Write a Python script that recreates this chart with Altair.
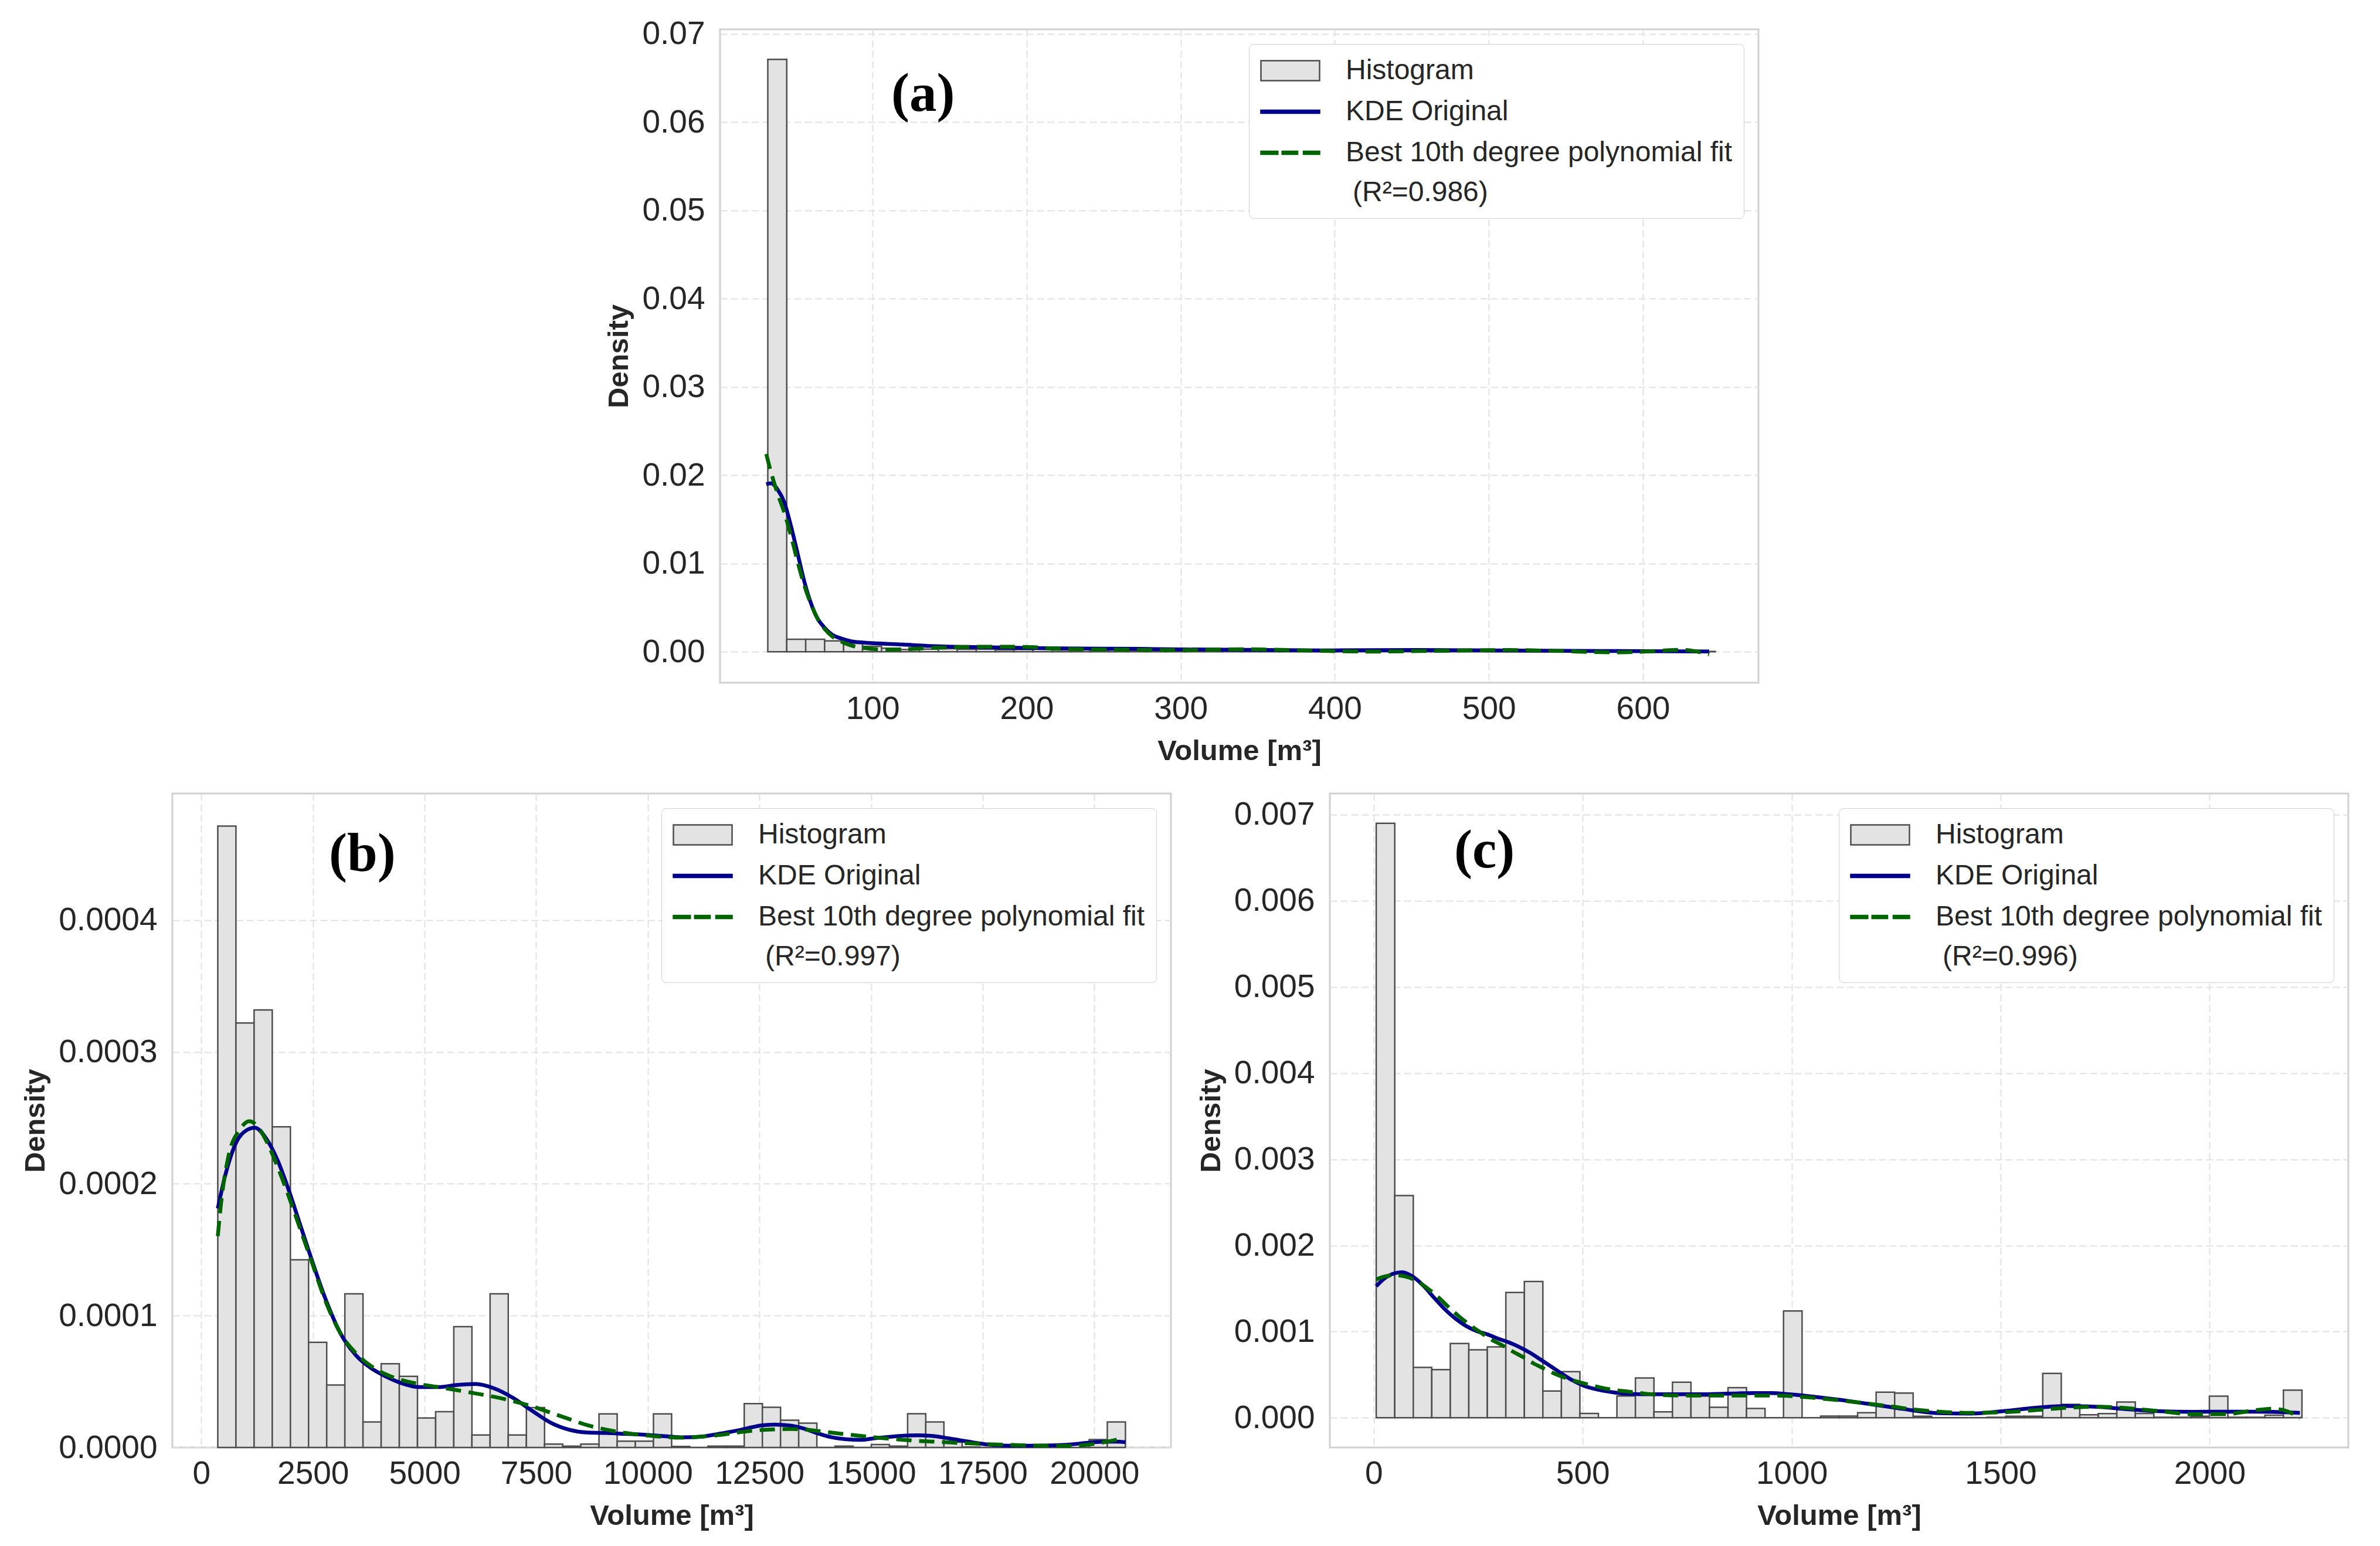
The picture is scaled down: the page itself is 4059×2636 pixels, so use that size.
import altair as alt
import pandas as pd

KDE_COLOR = "#00008b"
POLY_COLOR = "#006400"
HIST_FILL = "#e3e3e3"
HIST_EDGE = "#4d4d4d"
TEXT = "#262626"

# ---------------- panel (a) ----------------
A_BIN_START = 32.0
A_BIN_WIDTH = 12.3
A_UNIT = 0.01
A_HIST = [6.71, 0.142, 0.142, 0.123, 0.095, 0.062, 0.040, 0.025, 0.030, 0.035,
          0.028, 0.030, 0.022, 0.025, 0.030, 0.020, 0.025, 0.018, 0.022, 0.015,
          0.020, 0.018, 0.012, 0.015, 0.020, 0.010, 0.015, 0.012, 0.018, 0.010,
          0.012, 0.015, 0.010, 0.012, 0.008, 0.015, 0.010, 0.008, 0.012, 0.010,
          0.008, 0.006, 0.010, 0.008, 0.005, 0.006, 0.004, 0.006, 0.005, 0.004]
A_KDE_X = [31, 34.2, 38.4, 42.7, 46.9, 51.2, 55.4, 59.7, 63.9, 69, 74.1, 79.3,
           86.1, 94.6, 103, 120, 137, 154, 188, 222, 273, 300, 400, 453, 500,
           572, 643]
A_KDE_Y = [1.898, 1.908, 1.837, 1.694, 1.433, 1.125, 0.816, 0.565, 0.389, 0.270,
           0.190, 0.152, 0.119, 0.104, 0.095, 0.081, 0.066, 0.057, 0.047, 0.038,
           0.033, 0.027, 0.016, 0.020, 0.016, 0.009, 0.004]
A_POLY_X = [31, 34.2, 38.4, 42.7, 46.9, 51.2, 55.4, 59.7, 63.9, 69, 74.1, 79.3,
            86.1, 94.6, 103, 111.6, 120, 137, 154, 171, 188, 205, 216, 261, 300,
            341, 379, 424, 468, 513, 542, 581, 599, 625, 643]
A_POLY_Y = [2.240, 2.027, 1.789, 1.576, 1.324, 1.030, 0.769, 0.555, 0.389, 0.256,
            0.171, 0.119, 0.071, 0.043, 0.028, 0.024, 0.028, 0.043, 0.052, 0.057,
            0.057, 0.052, 0.038, 0.024, 0.020, 0.029, 0.016, 0.002, 0.011, 0.020,
            0.011, -0.007, 0.000, 0.022, -0.029]

# ---------------- panel (b) ----------------
B_BIN_START = 368.0
B_BIN_WIDTH = 406.6
B_UNIT = 1e-4
B_HIST = [4.713, 3.219, 3.319, 2.432, 1.423, 0.797, 0.474, 1.165, 0.194, 0.635,
          0.539, 0.223, 0.271, 0.916, 0.094, 1.165, 0.094, 0.303, 0.026, 0.010,
          0.026, 0.255, 0.048, 0.048, 0.255, 0.008, 0.000, 0.010, 0.010, 0.333,
          0.305, 0.207, 0.185, 0.000, 0.010, 0.000, 0.022, 0.010, 0.256, 0.193,
          0.040, 0.005, 0.000, 0.000, 0.000, 0.000, 0.000, 0.000, 0.060, 0.193]
B_KDE_X = [368, 528, 779, 1030, 1198, 1449, 1700, 1951, 2203, 2454, 2789, 3124,
           3459, 3794, 4129, 4464, 4883, 5302, 5720, 6139, 6558, 6977, 7396, 7814,
           8233, 8652, 9071, 9489, 9908, 10327, 10745, 11164, 11583, 11950, 12213,
           12532, 12850, 13168, 13487, 13805, 14123, 14442, 14760, 15078, 15397,
           15715, 16033, 16352, 16670, 16988, 17307, 17625, 17943, 18261, 18580,
           18898, 19216, 19535, 19853, 20171, 20490, 20700]
B_KDE_Y = [1.813, 2.055, 2.313, 2.410, 2.426, 2.345, 2.184, 1.958, 1.700, 1.442,
           1.119, 0.861, 0.700, 0.603, 0.539, 0.490, 0.458, 0.458, 0.474, 0.481,
           0.448, 0.377, 0.281, 0.190, 0.135, 0.113, 0.110, 0.103, 0.097, 0.087,
           0.077, 0.081, 0.103, 0.125, 0.144, 0.167, 0.174, 0.167, 0.144, 0.107,
           0.077, 0.0625, 0.058, 0.070, 0.080, 0.089, 0.092, 0.088, 0.073, 0.055,
           0.037, 0.022, 0.015, 0.013, 0.013, 0.015, 0.018, 0.025, 0.036, 0.043,
           0.045, 0.040]
B_POLY_X = [368, 444, 611, 862, 1072, 1240, 1449, 1700, 1951, 2203, 2454, 2789,
            3124, 3459, 3794, 4129, 4464, 4883, 5302, 5720, 6139, 6558, 6977, 7396,
            7814, 8233, 8652, 9071, 9489, 9908, 10327, 10745, 11164, 11583, 12002,
            12213, 12532, 12850, 13168, 13487, 13805, 14123, 14442, 14760, 15078,
            15397, 15715, 16033, 16352, 16670, 16988, 17307, 17625, 17943, 18261,
            18580, 18898, 19216, 19535, 19853, 20171, 20490, 20650]
B_POLY_Y = [1.603, 1.861, 2.216, 2.410, 2.474, 2.442, 2.329, 2.135, 1.910, 1.668,
            1.426, 1.103, 0.861, 0.716, 0.619, 0.555, 0.513, 0.481, 0.458, 0.435,
            0.410, 0.384, 0.352, 0.313, 0.265, 0.216, 0.168, 0.135, 0.110, 0.094,
            0.081, 0.074, 0.081, 0.094, 0.113, 0.122, 0.132, 0.137, 0.140, 0.137,
            0.125, 0.112, 0.100, 0.088, 0.077, 0.067, 0.058, 0.050, 0.045, 0.040,
            0.034, 0.030, 0.025, 0.021, 0.018, 0.015, 0.013, 0.012, 0.013, 0.021,
            0.037, 0.058, 0.073]

# ---------------- panel (c) ----------------
C_BIN_START = 6.0
C_BIN_WIDTH = 44.3
C_UNIT = 1e-3
C_HIST = [6.900, 2.578, 0.584, 0.559, 0.861, 0.788, 0.822, 1.454, 1.581, 0.311,
          0.535, 0.049, 0.000, 0.253, 0.462, 0.068, 0.413, 0.250, 0.122, 0.350,
          0.107, 0.000, 1.240, 0.000, 0.020, 0.020, 0.058, 0.297, 0.287, 0.018,
          0.000, 0.000, 0.000, 0.005, 0.018, 0.018, 0.514, 0.155, 0.034, 0.048,
          0.183, 0.050, 0.005, 0.005, 0.018, 0.251, 0.005, 0.005, 0.030, 0.320]
C_KDE_X = [6, 25, 51, 68, 93, 119, 144, 170, 195, 221, 246, 272, 297, 323, 348,
           374, 399, 425, 450, 476, 501, 527, 552, 578, 612, 654, 697, 739, 782,
           824, 867, 909, 952, 994, 1037, 1079, 1121, 1164, 1206, 1249, 1290, 1352,
           1428, 1504, 1580, 1655, 1731, 1807, 1883, 1958, 2034, 2110, 2186, 2216]
C_KDE_Y = [1.527, 1.615, 1.678, 1.688, 1.639, 1.532, 1.396, 1.260, 1.153, 1.065,
           1.007, 0.968, 0.919, 0.875, 0.822, 0.754, 0.676, 0.593, 0.511, 0.433,
           0.375, 0.336, 0.311, 0.292, 0.277, 0.272, 0.272, 0.272, 0.272, 0.277,
           0.282, 0.287, 0.287, 0.272, 0.253, 0.229, 0.204, 0.175, 0.145, 0.115,
           0.085, 0.053, 0.048, 0.075, 0.114, 0.137, 0.126, 0.098, 0.075, 0.068,
           0.071, 0.071, 0.064, 0.057]
C_POLY_X = [6, 25, 51, 76, 102, 127, 153, 178, 204, 229, 255, 280, 306, 331, 357,
            382, 408, 433, 459, 484, 510, 535, 569, 612, 654, 697, 739, 782, 824,
            867, 909, 952, 994, 1037, 1079, 1121, 1164, 1206, 1249, 1277, 1352,
            1428, 1504, 1580, 1655, 1731, 1807, 1883, 1958, 2034, 2110, 2148, 2186,
            2216]
C_POLY_Y = [1.605, 1.639, 1.654, 1.639, 1.590, 1.508, 1.406, 1.289, 1.177, 1.080,
            0.992, 0.910, 0.846, 0.773, 0.705, 0.632, 0.569, 0.511, 0.462, 0.423,
            0.389, 0.360, 0.326, 0.302, 0.277, 0.263, 0.258, 0.258, 0.258, 0.258,
            0.258, 0.258, 0.253, 0.238, 0.219, 0.199, 0.175, 0.150, 0.125, 0.105,
            0.071, 0.057, 0.064, 0.087, 0.114, 0.128, 0.110, 0.075, 0.041, 0.041,
            0.087, 0.105, 0.075, -0.005]

# legend symbols (custom paths: grey box, solid line, dashed line)
RECT_PATH = "M-1,-0.68H3V0.68H-1Z"
LINE_PATH = "M-1,-0.1H3V0.1H-1Z"
DASH_PATH = ("M-1,-0.1H0.15V0.1H-1Z M0.45,-0.1H1.5V0.1H0.45Z "
             "M1.9,-0.1H3V0.1H1.9Z")


def panel(hist, bin_start, bin_width, unit, kde_x, kde_y, poly_x, poly_y, r2,
          x_dom, y_dom, x_ticks, y_ticks, y_fmt, w, h, tag, tag_dx, tag_dy):
    n = len(hist)
    bars = pd.DataFrame({
        "x0": [bin_start + i * bin_width for i in range(n)],
        "x1": [bin_start + (i + 1) * bin_width for i in range(n)],
        "h": [v * unit for v in hist],
    })
    kde = pd.DataFrame({"x": kde_x, "y": [v * unit for v in kde_y]})
    poly = pd.DataFrame({"x": poly_x, "y": [v * unit for v in poly_y]})

    xs = alt.Scale(domain=x_dom, nice=False, zero=False)
    ys = alt.Scale(domain=y_dom, nice=False, zero=False)
    xa = alt.Axis(values=x_ticks, format="d", title="Volume [m³]")
    ya = alt.Axis(values=y_ticks, format=y_fmt, title="Density")

    hist_layer = alt.Chart(bars).mark_bar(
        fill=HIST_FILL, stroke=HIST_EDGE, strokeWidth=2.5
    ).encode(
        x=alt.X("x0:Q", scale=xs, axis=xa),
        x2="x1:Q",
        y=alt.Y("h:Q", scale=ys, axis=ya),
        y2=alt.datum(0),
    )
    kde_layer = alt.Chart(kde).mark_line(
        color=KDE_COLOR, strokeWidth=6.5, interpolate="monotone"
    ).encode(x=alt.X("x:Q", scale=xs, axis=xa), y=alt.Y("y:Q", scale=ys, axis=ya))
    poly_layer = alt.Chart(poly).mark_line(
        color=POLY_COLOR, strokeWidth=6.5, strokeDash=[26, 13], interpolate="monotone"
    ).encode(x=alt.X("x:Q", scale=xs, axis=xa), y=alt.Y("y:Q", scale=ys, axis=ya))

    # second label line keeps the small indent of the original ("\u200b" stops trimming)
    names = ["Histogram", "KDE Original",
             f"Best 10th degree polynomial fit|\u200b\u2005(R²={r2})"]
    leg = alt.Legend(
        title=None, orient="top-right", offset=25,
        labelFont="Liberation Sans", labelFontSize=48, labelColor=TEXT,
        labelExpr="split(datum.label, '|')", labelLimit=3000, labelOffset=93,
        symbolSize=2500, symbolStrokeWidth=2.5, symbolOpacity=1,
        rowPadding=19, padding=19,
        strokeColor="#d0d0d0", fillColor="white", cornerRadius=8,
    )
    legend_layer = alt.Chart(pd.DataFrame({"series": names})).mark_point(
        filled=True, opacity=0, fillOpacity=1, strokeWidth=2.5
    ).encode(
        fill=alt.Fill("series:N", legend=leg, scale=alt.Scale(
            domain=names, range=[HIST_FILL, KDE_COLOR, POLY_COLOR])),
        stroke=alt.Stroke("series:N", legend=leg, scale=alt.Scale(
            domain=names, range=[HIST_EDGE, KDE_COLOR, POLY_COLOR])),
        shape=alt.Shape("series:N", legend=leg, scale=alt.Scale(
            domain=names, range=[RECT_PATH, LINE_PATH, DASH_PATH])),
    )

    tag_layer = alt.Chart(pd.DataFrame({"tag": [tag]})).mark_text(
        font="Liberation Serif", fontSize=93, fontWeight="bold", color="black",
        align="left", baseline="alphabetic",
    ).encode(x=alt.value(tag_dx), y=alt.value(tag_dy), text="tag:N")

    return alt.layer(
        hist_layer, kde_layer, poly_layer, legend_layer, tag_layer
    ).properties(width=w, height=h)


pa = panel(A_HIST, A_BIN_START, A_BIN_WIDTH, A_UNIT, A_KDE_X, A_KDE_Y,
           A_POLY_X, A_POLY_Y, "0.986", [1, 675], [-0.0035, 0.0705],
           [100, 200, 300, 400, 500, 600],
           [0, 0.01, 0.02, 0.03, 0.04, 0.05, 0.06, 0.07], ".2f",
           1771, 1114, "(a)", 292, 139)
pb = panel(B_HIST, B_BIN_START, B_BIN_WIDTH, B_UNIT, B_KDE_X, B_KDE_Y,
           B_POLY_X, B_POLY_Y, "0.997", [-649, 21717], [0, 0.000496],
           [0, 2500, 5000, 7500, 10000, 12500, 15000, 17500, 20000],
           [0, 0.0001, 0.0002, 0.0003, 0.0004], ".4f",
           1703, 1115, "(b)", 267, 132)
pc = panel(C_HIST, C_BIN_START, C_BIN_WIDTH, C_UNIT, C_KDE_X, C_KDE_Y,
           C_POLY_X, C_POLY_Y, "0.996", [-105, 2332], [-0.000345, 0.007245],
           [0, 500, 1000, 1500, 2000],
           [0, 0.001, 0.002, 0.003, 0.004, 0.005, 0.006, 0.007], ".3f",
           1737, 1115, "(c)", 212, 126)

# empty spacer that pushes panel (a) to its place above the two lower panels
spacer = alt.Chart(pd.DataFrame({"s": [0]})).mark_point(opacity=0).encode(
    x=alt.value(0), y=alt.value(0)
).properties(width=736, height=10, view=alt.ViewBackground(strokeOpacity=0))

indep = dict(fill="independent", stroke="independent", shape="independent")
top = alt.hconcat(spacer, pa, spacing=0).resolve_scale(**indep)
bottom = alt.hconcat(pb, pc, spacing=40).resolve_scale(**indep)
chart = alt.vconcat(top, bottom, spacing=44).resolve_scale(**indep).properties(
    padding={"left": 27, "top": 21, "right": 10, "bottom": 10},
).configure(
    background="white",
    style={"guide-label": {"lineHeight": 68}},
).configure_view(
    stroke="#d0d0d0", strokeWidth=3,
).configure_axis(
    grid=True, gridColor="#e2e2e2", gridDash=[12, 6], gridWidth=2,
    domain=False, ticks=False,
    labelFont="Liberation Sans", labelFontSize=55, labelColor=TEXT,
    titleFont="Liberation Sans", titleFontSize=49, titleFontWeight="bold",
    titleColor=TEXT,
).configure_axisX(
    labelPadding=18, titlePadding=20,
).configure_axisY(
    labelPadding=26, titlePadding=14,
)

chart.save("out.html", embed_options={"renderer": "svg", "actions": False})
